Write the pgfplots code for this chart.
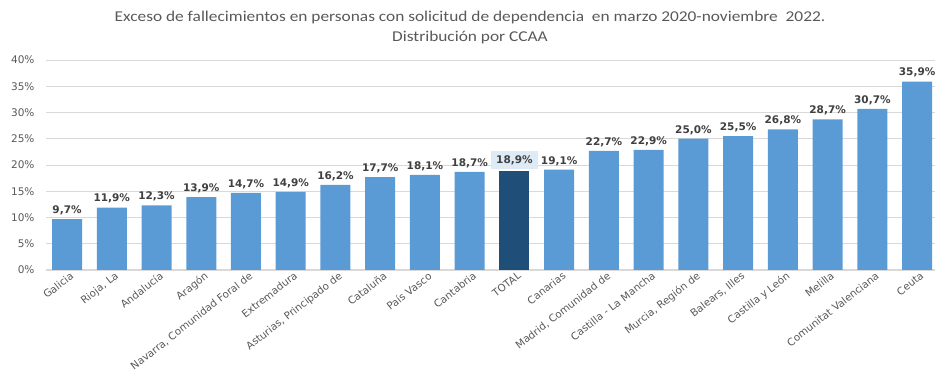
\documentclass[border=0pt]{standalone}
\usepackage{pgfplots}
\pgfplotsset{compat=1.18}
\usepackage{fontspec}
\setmainfont{DejaVu Sans}
\newfontfamily\titlefont{Carlito}
\definecolor{barblue}{HTML}{5B9BD5}
\definecolor{totalblue}{HTML}{1F4E79}
\definecolor{gridgray}{HTML}{D9D9D9}
\definecolor{txtgray}{HTML}{595959}
\definecolor{lblgray}{HTML}{404040}
\definecolor{hlblue}{HTML}{DEEBF7}
\begin{document}
\begin{tikzpicture}[x=1pt,y=1pt]
\path[use as bounding box] (0,0) rectangle (937,374);
\node[font=\titlefont\fontsize{15}{20}\selectfont, text=txtgray, xscale=1.156] at (470,356)
  {Exceso de fallecimientos en personas con solicitud de dependencia\ \ en marzo 2020-noviembre\ \ 2022.};
\node[font=\titlefont\fontsize{15}{20}\selectfont, text=txtgray, xscale=1.156] at (470,336) {Distribución por CCAA};
\begin{axis}[
  at={(46pt,104pt)}, anchor=south west,
  scale only axis, width=889pt, height=210pt,
  /pgf/number format/assume math mode=true,
  ymin=0, ymax=40, ytick={0,5,...,40},
  xmin=-0.47, xmax=19.4,
  axis x line*=bottom, axis y line*=left,
  y axis line style={draw=none},
  x axis line style={draw=gridgray, line width=1pt, -},
  ymajorgrids, grid style={draw=gridgray, line width=0.9pt},
  yticklabel={\pgfmathprintnumber{\tick}\%},
  yticklabel style={font=\fontsize{10.5}{12}\selectfont, text=txtgray, xshift=-8pt},
  ytick style={draw=none},
  xtick={0,...,19}, xtick style={draw=none},
  xticklabels={Galicia, {Rioja, La}, Andalucía, Aragón, {Navarra, Comunidad Foral de}, Extremadura, {Asturias, Principado de}, Cataluña, País Vasco, Cantabria, TOTAL, Canarias, {Madrid, Comunidad de}, Castilla - La Mancha, {Murcia, Región de}, {Balears, Illes}, Castilla y León, Melilla, Comunitat Valenciana, Ceuta},
  xticklabel style={font=\fontsize{10.3}{12}\selectfont, text=txtgray, rotate=38, anchor=north east, inner sep=1pt, xshift=5pt, yshift=2pt},
  ybar, bar width=30pt, bar shift=0pt,
  nodes near coords={\pgfmathprintnumber[fixed,fixed zerofill,precision=1,use comma]{\pgfplotspointmeta}\%},
  every node near coord/.append style={font=\bfseries\fontsize{10.5}{12}\selectfont, text=lblgray, inner sep=2pt, yshift=2pt},
  clip=false,
]
\addplot[fill=barblue, draw=none] coordinates {
  (0,9.7) (1,11.9) (2,12.3) (3,13.9) (4,14.7) (5,14.9) (6,16.2) (7,17.7) (8,18.1) (9,18.7)
  (11,19.1) (12,22.7) (13,22.9) (14,25.0) (15,25.5) (16,26.8) (17,28.7) (18,30.7) (19,35.9)};
\addplot[fill=totalblue, draw=none,
  every node near coord/.append style={fill=hlblue, inner xsep=5pt, inner ysep=4pt}] coordinates {(10,18.9)};
\end{axis}
\end{tikzpicture}
\end{document}
